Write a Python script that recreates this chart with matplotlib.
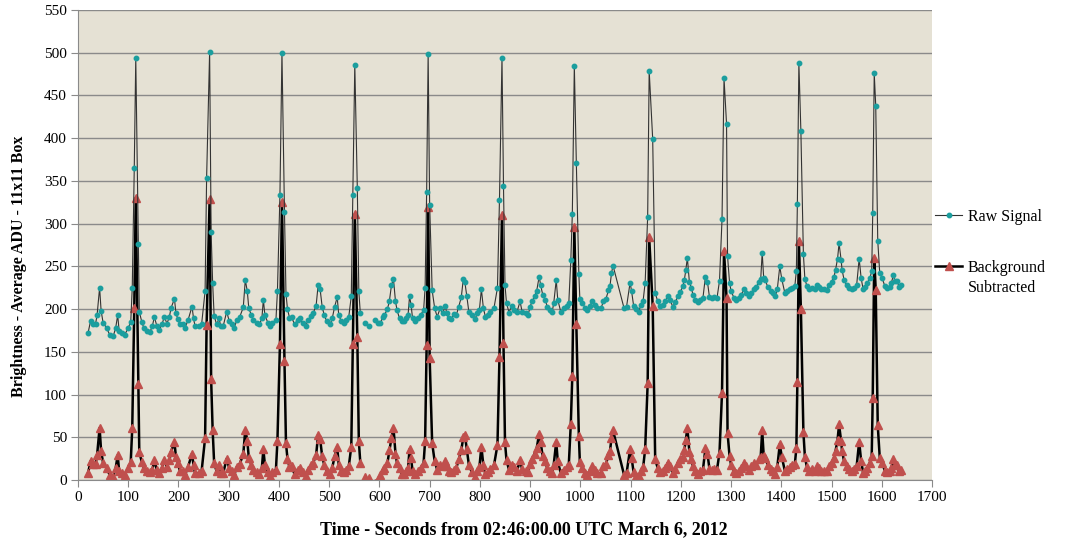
import numpy as np
import matplotlib.pyplot as plt
from matplotlib.lines import Line2D

plt.rcParams['font.family'] = ['Liberation Serif', 'DejaVu Serif']

# -----------------------------
# DATA
# -----------------------------
nan = np.nan

time_s = [
    20, 25, 30, 35, 38, 43, 46, 50, 57, 63, 70, 75, 79, 82, 87, 93, 100, 105, 108, 112, 115, 120, 122, 127,
    131, 137, 143, 148, 152, 157, 162, 167, 172, 177, 182, 185, 192, 195, 199, 203, 210, 213, 219, 227, 230,
    233, 240, 246,
    253, 256, 262, 265, 268, 271, 276, 281, 284, 289, 296, 301, 306, 311, 316, 322, 329, 333, 337, 340, 345,
    349, 356, 361, 366, 369, 372, 378, 382, 387, 394, 397, 402, 406, 411, 414, 417, 421, 425, 431, 437, 442,
    447, 453, 458, 464, 468, 474, 478, 482, 486, 490,
    495, 502, 506, 511, 516, 519, 524, 529, 534, 539, 544, 547, 551, 556, 559, 562, 566, 571, 575, 579, 585,
    592, 597, 602, 607, 610, 616, 620, 624, 628, 632, 635, 640, 644, 648, 653, 657, 660, 663, 666, 671, 677,
    682, 688, 691, 694, 697, 700, 705, 710, 715, 721, 726, 731,
    734, 738, 743, 748, 753, 758, 763, 767, 770, 774, 778, 784, 790, 795, 799, 803, 807, 811, 816, 821, 828,
    835, 839, 844, 847, 850, 853, 858, 863, 868, 874, 880, 884, 891, 896, 900, 904, 909, 913, 918, 921, 925,
    930, 934, 939, 944, 947, 952, 955, 961, 967, 974,
    977, 981, 984, 988, 992, 997, 999, 1004, 1010, 1014, 1019, 1024, 1029, 1034, 1041, 1046, 1051, 1056,
    1059, 1062, 1065, 1087, 1092, 1099, 1102, 1106, 1111, 1116, 1121, 1125, 1129, 1134, 1137, 1144, 1149,
    1154, 1158, 1164, 1169, 1174, 1178, 1184, 1189, 1194, 1199, 1204, 1207, 1210, 1213, 1217,
    1221, 1224, 1229, 1234, 1239, 1244, 1249, 1253, 1257, 1262, 1267, 1272, 1277, 1282, 1286, 1291, 1293,
    1297, 1300, 1306, 1310, 1316, 1320, 1326, 1330, 1336, 1340, 1346, 1350, 1356, 1359, 1362, 1365, 1368,
    1373, 1379, 1383, 1388, 1392, 1397, 1401, 1407, 1412, 1417, 1422, 1427, 1430, 1432, 1435, 1439, 1444,
    1447, 1451, 1456, 1461,
    1467, 1472, 1476, 1480, 1485, 1490, 1495, 1500, 1505, 1508, 1512, 1515, 1519, 1521, 1525, 1530, 1535,
    1540, 1545, 1550, 1555, 1559, 1563, 1566, 1571, 1576, 1580, 1582, 1585, 1588, 1592, 1596, 1601, 1606,
    1611, 1616, 1619, 1623, 1626, 1631, 1634, 1639,
]

raw_signal = [
    172, 186, 183, 183, 193, 225, 198, 184, 178, 170, 168, 178, 193, 174, 172, 170, 178, 185, 225, 365, 494,
    276, 197, 185, 178, 174, 173, 180, 191, 180, 176, 182, 191, 183, 191, 201, 212, 195, 188, 182, 182, 178,
    187, 203, 189, 180, 180, 182,
    221, 353, 501, 290, 231, 192, 182, 189, 180, 180, 197, 186, 182, 178, 187, 191, 202, 234, 221, 201, 193,
    187, 184, 182, 189, 211, 193, 184, 180, 184, 187, 221, 334, 500, 314, 218, 200, 190, 191, 182, 187, 189,
    184, 180, 187, 192, 195, 204, 228, 223, 203, 193,
    186, 182, 189, 203, 214, 193, 186, 184, 187, 191, 215, 334, 486, 342, 221, 195, nan, 184, nan, 180, nan,
    187, 184, 184, 191, 193, 200, 210, 228, 235, 209, 199, 189, 186, 186, 189, 193, 215, 205, 189, 186, 189,
    193, 199, 225, 337, 499, 322, 222, 201, 191, 201, 195, 204,
    195, 189, 188, 194, 193, 203, 214, 235, 232, 215, 197, 193, 188, 195, 199, 223, 201, 191, 193, 197, 201,
    225, 328, 494, 344, 228, 207, 196, 204, 199, 197, 209, 197, 196, 193, 203, 209, 215, 221, 238, 228, 217,
    211, 203, 199, 197, 207, 234, 211, 197, 201, 204,
    207, 257, 311, 485, 371, 241, 212, 207, 201, 199, 204, 209, 205, 201, 201, 209, 212, 222, 227, 242, 251,
    201, 203, 231, 221, 204, 200, 197, 205, 210, 231, 308, 479, 399, 219, 209, 204, 205, 209, 215, 211, 203,
    208, 215, 220, 227, 234, 246, 260, 232,
    225, 217, 211, 208, 211, 213, 238, 232, 214, 213, 214, 213, 233, 305, 470, 417, 262, 231, 221, 213, 211,
    213, 217, 223, 219, 215, 219, 223, 226, 232, 235, 266, 236, 234, 226, 221, 219, 215, 223, 250, 235, 219,
    221, 223, 225, 227, 245, 323, 488, 408, 264, 235, 227, 223, 225,
    223, 228, 226, 223, 223, 222, 228, 232, 238, 246, 259, 277, 258, 246, 234, 228, 225, 223, 225, 228, 259,
    236, 223, 226, 230, 236, 244, 312, 476, 438, 280, 242, 236, 227, 225, 226, 230, 240, 233, 233, 226, 228,
]

bg_subtracted = [
    8, 22, 19, 19, 29, 61, 34, 20, 14, 6, 4, 14, 29, 10, 8, 6, 14, 21, 61, 201, 330, 112, 33, 21, 14, 10, 9,
    12, 23, 12, 8, 14, 23, 15, 23, 33, 44, 27, 20, 10, 10, 6, 15, 31, 17, 8, 8, 10,
    49, 181, 329, 118, 59, 20, 10, 17, 8, 8, 25, 14, 10, 6, 15, 19, 30, 59, 46, 26, 18, 12, 9, 7, 14, 36, 18,
    9, 5, 9, 12, 46, 159, 325, 139, 43, 25, 15, 16, 7, 12, 14, 9, 5, 12, 17, 20, 29, 53, 48, 28, 18,
    11, 7, 14, 28, 39, 18, 11, 9, 12, 16, 39, 159, 311, 167, 46, 20, nan, 4, nan, 2, nan, -3, 0, 6, 12, 14,
    20, 35, 49, 61, 31, 20, 14, 7, 7, 10, 14, 36, 26, 10, 7, 10, 14, 20, 46, 158, 320, 143, 43, 22, 12, 18,
    16, 22,
    16, 10, 9, 12, 14, 24, 35, 50, 53, 36, 18, 9, 4, 11, 15, 39, 17, 7, 9, 13, 17, 41, 144, 310, 160, 44, 23,
    12, 18, 15, 11, 23, 13, 10, 9, 19, 25, 31, 37, 54, 44, 28, 22, 14, 10, 8, 18, 45, 22, 8, 12, 15,
    18, 66, 122, 296, 182, 52, 21, 14, 8, 6, 11, 16, 12, 8, 8, 16, 19, 29, 34, 49, 58, 6, 8, 36, 26, 9, 5, 5,
    10, 15, 36, 113, 284, 204, 24, 14, 9, 10, 14, 20, 16, 8, 13, 20, 25, 27, 35, 47, 61, 33,
    24, 16, 10, 7, 10, 12, 37, 31, 13, 12, 13, 12, 32, 102, 268, 213, 55, 28, 18, 10, 8, 10, 14, 20, 16, 12,
    16, 20, 18, 24, 27, 58, 28, 26, 18, 13, 11, 7, 15, 42, 27, 11, 13, 15, 17, 19, 37, 115, 280, 200, 56, 27,
    15, 11, 13,
    11, 16, 14, 11, 11, 10, 16, 20, 26, 34, 47, 65, 46, 34, 22, 16, 13, 11, 13, 16, 45, 22, 8, 10, 14, 20, 28,
    96, 260, 222, 64, 26, 20, 11, 9, 10, 14, 24, 17, 17, 10, 12,
]

teal = "#1B9E9E"
brick = "#C0504D"

# -----------------------------
# PLOT
# -----------------------------
fig = plt.figure(figsize=(10.65, 5.5), dpi=100)
ax = fig.add_axes([78 / 1065, 1 - 480 / 550, (932 - 78) / 1065, 470 / 550])
ax.set_facecolor("#E5E1D4")

ax.plot(time_s, raw_signal, color="#333333", linewidth=0.8,
        marker="o", markersize=3.2, markerfacecolor=teal, markeredgecolor=teal, zorder=3)
ax.plot(time_s, bg_subtracted, color="black", linewidth=1.8,
        marker="^", markersize=5.5, markerfacecolor=brick, markeredgecolor=brick, zorder=2)

ax.set_xlim(0, 1700)
ax.set_ylim(0, 550)
ax.set_xticks(range(0, 1701, 100))
ax.set_yticks(range(0, 551, 50))
ax.yaxis.grid(True, color="#8A8A8A", linewidth=1.0)
ax.set_axisbelow(True)
for side in ("top", "right"):
    ax.spines[side].set_visible(False)
for side in ("left", "bottom"):
    ax.spines[side].set_color("#8A8A8A")
ax.tick_params(direction="out", length=5, color="#8A8A8A", labelsize=11, pad=3)

ax.set_xlabel("Time - Seconds from 02:46:00.00 UTC March 6, 2012", fontsize=13, fontweight="bold")
ax.xaxis.set_label_coords(0.522, -0.088)
ax.set_ylabel("Brightness - Average ADU - 11x11 Box", fontsize=11.5, fontweight="bold")
ax.yaxis.set_label_coords(-0.06, 0.455)

# legend: two pieces so the second handle sits on the first text line
raw_handle = Line2D([], [], color="#333333", linewidth=0.8, marker="o", markersize=3.2,
                    markerfacecolor=teal, markeredgecolor=teal)
bg_handle = Line2D([], [], color="black", linewidth=1.8, marker="^", markersize=5.5,
                   markerfacecolor=brick, markeredgecolor=brick)
blank = Line2D([], [], linestyle="none")

leg_kw = dict(loc="upper left", bbox_transform=fig.transFigure, frameon=False, fontsize=11.5,
              handlelength=1.7, handletextpad=0.35, borderpad=0, borderaxespad=0)
leg1 = ax.legend([raw_handle], ["Raw Signal"], bbox_to_anchor=(935 / 1065, 1 - 209 / 550), **leg_kw)
ax.add_artist(leg1)
ax.legend([bg_handle, blank], ["Background", "Subtracted"], labelspacing=0.25,
          bbox_to_anchor=(935 / 1065, 1 - 260 / 550), **leg_kw)

fig.savefig("out.png", dpi=100)
